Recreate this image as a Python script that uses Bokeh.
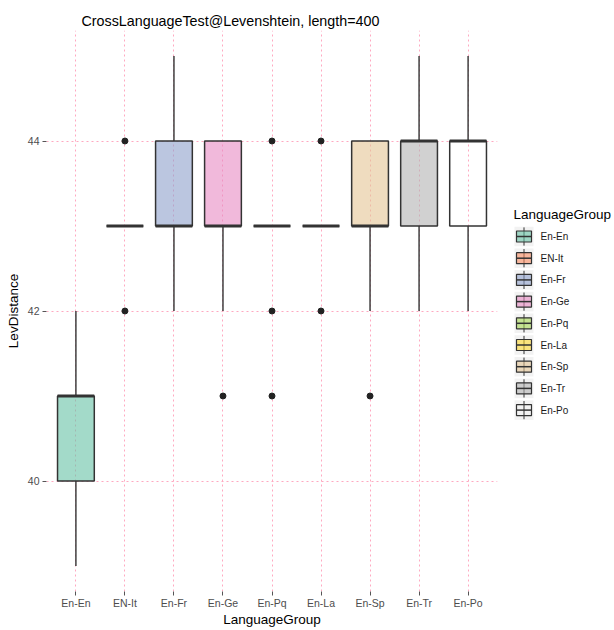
from bokeh.plotting import figure
from bokeh.models import FactorRange, Range1d, FixedTicker, ColumnDataSource
from bokeh.layouts import row
from bokeh.embed import file_html
from bokeh.resources import INLINE
from bokeh.core.properties import value

# ---- data ----
groups = ["En-En", "EN-It", "En-Fr", "En-Ge", "En-Pq", "En-La", "En-Sp", "En-Tr", "En-Po"]
lower = [39, 43, 42, 42, 43, 43, 42, 42, 42]
q1 = [40, 43, 43, 43, 43, 43, 43, 43, 43]
median = [41, 43, 43, 43, 43, 43, 43, 44, 44]
q3 = [41, 43, 44, 44, 43, 43, 44, 44, 44]
upper = [42, 43, 45, 44, 43, 43, 44, 45, 45]
out_group = ["EN-It", "EN-It", "En-Ge", "En-Pq", "En-Pq", "En-Pq", "En-La", "En-La", "En-Sp"]
out_value = [44, 42, 41, 44, 42, 41, 44, 42, 41]
colors = ["#66C2A5", "#FC8D62", "#8DA0CB", "#E78AC3", "#A6D854", "#FFD92F", "#E5C494", "#B3B3B3", "#FFFFFF"]
alphas = [0.6] * 8 + [0.0]
y_ticks = [40, 42, 44]

FONT = "Liberation Sans"
EDGE = "#333333"
GRID = "#FFA8C0"
TOP, BOTTOM, HEIGHT = 30, 39, 630
FRAME_H = HEIGHT - TOP - BOTTOM

src = ColumnDataSource(dict(group=groups, lower=lower, q1=q1, median=median, q3=q3,
                            upper=upper, color=colors, alpha=alphas))

p = figure(x_range=FactorRange(factors=groups, range_padding=0.1, range_padding_units="absolute"),
           y_range=Range1d(38.7, 45.3),
           width=501, height=HEIGHT,
           min_border_left=46, min_border_right=4, min_border_top=TOP, min_border_bottom=BOTTOM,
           output_backend="svg", toolbar_location=None,
           title="CrossLanguageTest@Levenshtein, length=400")

p.title.text_font = FONT
p.title.text_font_size = "14.3px"
p.title.text_font_style = "normal"
p.title.text_color = "#000000"
p.title.align = "left"
p.title.offset = 35
p.title.standoff = 4

p.outline_line_color = None
p.background_fill_color = "white"

for g in (p.xgrid, p.ygrid):
    g.grid_line_color = GRID
    g.grid_line_dash = "2 3"
    g.grid_line_width = 1
p.ygrid.ticker = FixedTicker(ticks=y_ticks)
p.yaxis.ticker = FixedTicker(ticks=y_ticks)

p.xaxis.axis_label = "LanguageGroup"
p.yaxis.axis_label = "LevDistance"
for ax in (p.xaxis, p.yaxis):
    ax.axis_line_color = None
    ax.major_tick_line_color = "#555555"
    ax.major_tick_out = 4
    ax.major_tick_in = 0
    ax.minor_tick_line_color = None
    ax.major_label_text_font = FONT
    ax.major_label_text_font_size = "10.5px"
    ax.major_label_text_color = "#4D4D4D"
    ax.major_label_standoff = 1
    ax.axis_label_text_font = FONT
    ax.axis_label_text_font_size = "13.5px"
    ax.axis_label_text_font_style = "normal"
    ax.axis_label_text_color = "#000000"
    ax.axis_label_standoff = 0
p.yaxis.axis_label_standoff = 4
p.yaxis.major_label_standoff = 3

# whiskers
p.segment(x0="group", y0="q3", x1="group", y1="upper", source=src, line_color=EDGE, line_width=1.4)
p.segment(x0="group", y0="lower", x1="group", y1="q1", source=src, line_color=EDGE, line_width=1.4)
# boxes
p.vbar(x="group", width=0.75, bottom="q1", top="q3", source=src,
       fill_color="color", fill_alpha="alpha", line_color=EDGE, line_width=1.5)
# medians
p.rect(x="group", y="median", width=0.75, height=3, height_units="screen", source=src,
       fill_color=EDGE, line_color=None)
# outliers
p.scatter(x=out_group, y=out_value, size=6, fill_color="#222222", line_color="#222222")

# ---- legend as a separate small figure (frame aligned with the main frame) ----
n = len(groups)
idx = list(range(n))
ROW = 21.7                      # px per legend row
first_row_px = 236 - TOP        # first key centre below the frame top
top_val = -first_row_px / ROW
bot_val = top_val + FRAME_H / ROW
lsrc = ColumnDataSource(dict(i=idx, group=groups, color=colors, alpha=alphas,
                             lo=[i - 0.42 for i in idx], hi=[i + 0.42 for i in idx]))

lf = figure(x_range=Range1d(-1, 111), y_range=Range1d(bot_val, top_val),
            width=112, height=HEIGHT,
            min_border_left=0, min_border_right=0, min_border_top=TOP, min_border_bottom=BOTTOM,
            x_axis_location=None, y_axis_location=None,
            output_backend="svg", toolbar_location=None)
lf.grid.visible = False
lf.outline_line_color = None

lf.rect(x=21.5, y="i", width=19, height=0.9, source=lsrc, fill_color="#F2F2F2", line_color=None)
lf.segment(x0=21.5, y0="lo", x1=21.5, y1="hi", source=lsrc, line_color=EDGE, line_width=1)
lf.rect(x=21.5, y="i", width=15, height=11, height_units="screen", source=lsrc,
        fill_color="color", fill_alpha="alpha", line_color=EDGE, line_width=1.2)
lf.segment(x0=14, y0="i", x1=29, y1="i", source=lsrc, line_color=EDGE, line_width=1.5)
lf.text(x=38, y="i", text="group", source=lsrc, text_baseline="middle",
        text_font=value(FONT), text_font_size="10px", text_color="#1A1A1A")
lf.text(x=[11], y=[-1], text=["LanguageGroup"], text_baseline="middle",
        text_font=value(FONT), text_font_size="13.5px", text_color="#000000")

layout = row(p, lf)
open("out.html", "w").write(file_html(layout, INLINE))
